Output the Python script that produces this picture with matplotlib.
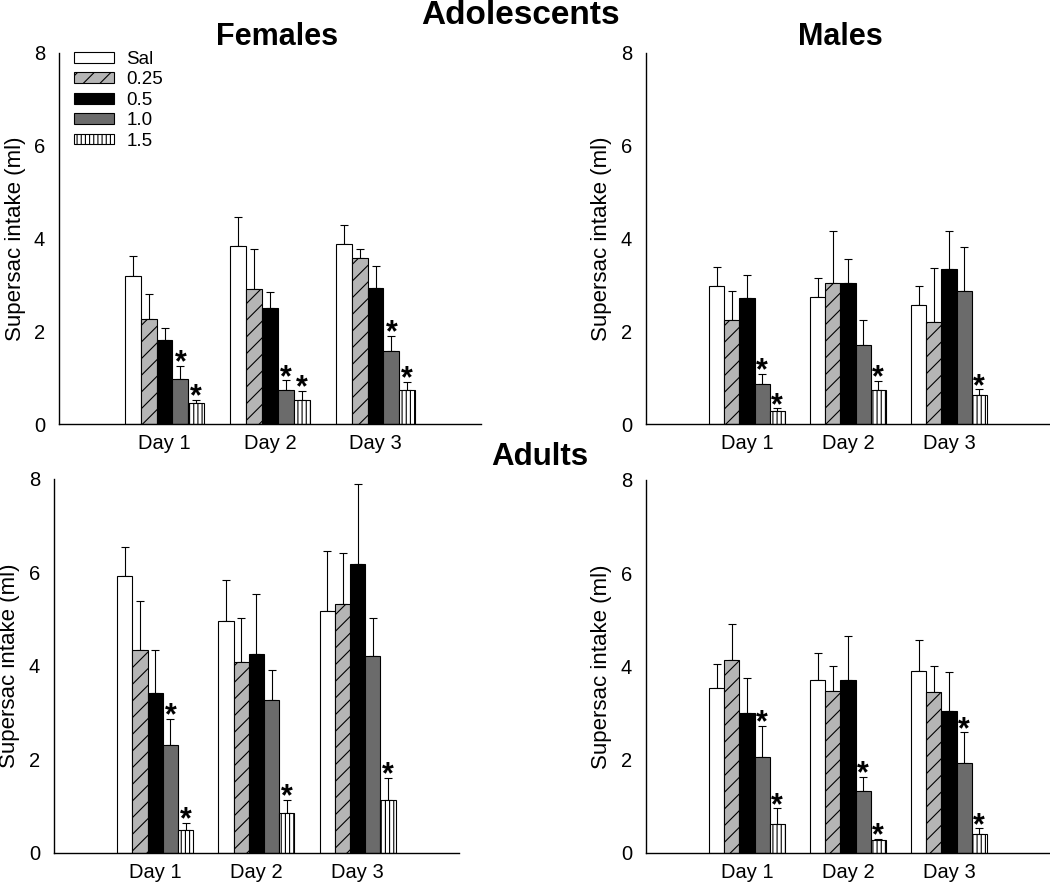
import matplotlib

matplotlib.use("Agg")
import matplotlib.pyplot as plt
import numpy as np

plt.rcParams["font.family"] = ["Liberation Sans", "DejaVu Sans"]
plt.rcParams["hatch.linewidth"] = 0.8

days = ["Day 1", "Day 2", "Day 3"]
doses = ["Sal", "0.25", "0.5", "1.0", "1.5"]

# rows = dose (Sal, 0.25, 0.5, 1.0, 1.5), columns = day
adol_fem_mean = [[3.20, 3.83, 3.89], [2.27, 2.92, 3.57], [1.81, 2.50, 2.94],
                 [0.98, 0.73, 1.58], [0.45, 0.52, 0.73]]
adol_fem_sem = [[0.43, 0.64, 0.41], [0.54, 0.85, 0.21], [0.25, 0.35, 0.46],
                [0.28, 0.21, 0.32], [0.07, 0.19, 0.18]]
adol_fem_sig = [(3, 0), (4, 0), (3, 1), (4, 1), (3, 2), (4, 2)]

adol_male_mean = [[2.97, 2.74, 2.56], [2.25, 3.05, 2.21], [2.72, 3.03, 3.35],
                  [0.86, 1.71, 2.87], [0.27, 0.73, 0.62]]
adol_male_sem = [[0.41, 0.40, 0.42], [0.62, 1.12, 1.16], [0.50, 0.53, 0.82],
                 [0.22, 0.54, 0.94], [0.07, 0.20, 0.13]]
adol_male_sig = [(3, 0), (4, 0), (4, 1), (4, 2)]

adult_fem_mean = [[5.92, 4.96, 5.18], [4.34, 4.08, 5.32], [3.42, 4.25, 6.19],
                  [2.32, 3.27, 4.22], [0.50, 0.85, 1.13]]
adult_fem_sem = [[0.62, 0.87, 1.28], [1.04, 0.94, 1.10], [0.92, 1.28, 1.71],
                 [0.55, 0.64, 0.80], [0.14, 0.28, 0.47]]
adult_fem_sig = [(3, 0), (4, 0), (4, 1), (4, 2)]

adult_male_mean = [[3.54, 3.71, 3.91], [4.14, 3.48, 3.45], [3.01, 3.72, 3.05],
                   [2.06, 1.34, 1.94], [0.62, 0.27, 0.40]]
adult_male_sem = [[0.52, 0.59, 0.65], [0.78, 0.53, 0.56], [0.75, 0.94, 0.83],
                  [0.66, 0.30, 0.65], [0.34, 0.04, 0.13]]
adult_male_sig = [(3, 0), (4, 0), (3, 1), (4, 1), (3, 2), (4, 2)]

FILLS = ["white", "#b5b5b5", "black", "#6b6b6b", "white"]
HATCHES = [None, "//", None, None, "||||"]
BAR_W = 0.15


def draw_panel(ax, means, sems, sig, legend=False):
    means = np.asarray(means)
    sems = np.asarray(sems)
    x = np.arange(len(days))
    for i, lab in enumerate(doses):
        xi = x + (i - 2) * BAR_W
        ax.bar(xi, means[i], BAR_W, color=FILLS[i], edgecolor="black",
               linewidth=0.8, hatch=HATCHES[i], label=lab, zorder=2)
        ax.errorbar(xi, means[i], yerr=[np.zeros(len(days)), sems[i]],
                    fmt="none", ecolor="black", elinewidth=0.8, capsize=3,
                    capthick=0.8, zorder=1)
    # significance stars sit just above the error caps
    for i, d in sig:
        ax.annotate("*", (d + (i - 2) * BAR_W, means[i, d] + sems[i, d]),
                    xytext=(0, -4), textcoords="offset points",
                    ha="center", va="baseline", fontsize=22,
                    fontweight="bold")
    ax.set_xlim(-1, 3)
    ax.set_ylim(0, 8)
    ax.set_yticks([0, 2, 4, 6, 8])
    ax.set_xticks(x)
    ax.set_xticklabels(days)
    ax.tick_params(axis="both", length=0, labelsize=14.5)
    ax.tick_params(axis="y", pad=10)
    ax.tick_params(axis="x", pad=7)
    for s in ("top", "right"):
        ax.spines[s].set_visible(False)
    for s in ("left", "bottom"):
        ax.spines[s].set_linewidth(1.0)
    ax.set_ylabel("Supersac intake (ml)", fontsize=16, labelpad=6)
    if legend:
        ax.legend(loc="upper left", bbox_to_anchor=(0.035, 1.005),
                  frameon=False, fontsize=13.5, handlelength=2.15,
                  handleheight=0.5, handletextpad=0.65, labelspacing=0.18,
                  borderpad=0, borderaxespad=0)


fig = plt.figure(figsize=(10.5, 8.83), dpi=100)
ax_af = fig.add_axes([0.0562, 0.5198, 0.4019, 0.4202])
ax_am = fig.add_axes([0.6152, 0.5198, 0.3848, 0.4202])
ax_xf = fig.add_axes([0.0514, 0.0340, 0.3857, 0.4236])
ax_xm = fig.add_axes([0.6152, 0.0340, 0.3848, 0.4224])

draw_panel(ax_af, adol_fem_mean, adol_fem_sem, adol_fem_sig, legend=True)
draw_panel(ax_am, adol_male_mean, adol_male_sem, adol_male_sig)
draw_panel(ax_xf, adult_fem_mean, adult_fem_sem, adult_fem_sig)
draw_panel(ax_xm, adult_male_mean, adult_male_sem, adult_male_sig)

fig.text(520 / 1050, 1 - 15 / 883, "Adolescents", ha="center", va="center",
         fontsize=24, fontweight="bold")
fig.text(277 / 1050, 1 - 37 / 883, "Females", ha="center", va="center",
         fontsize=22, fontweight="bold")
fig.text(840 / 1050, 1 - 37 / 883, "Males", ha="center", va="center",
         fontsize=22, fontweight="bold")
fig.text(540 / 1050, 1 - 457 / 883, "Adults", ha="center", va="center",
         fontsize=22.5, fontweight="bold")

fig.savefig("out.png", dpi=100)
